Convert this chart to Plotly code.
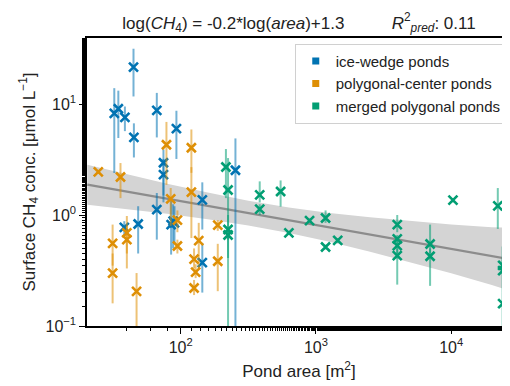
import numpy as np
import plotly.graph_objects as go

# ---------------- data ----------------
iw_area = [44.8, 32.3, 34.6, 38.7, 45.1, 66.6, 93, 74.6, 74.6, 66.6, 38.3, 48.5, 85, 88, 90, 144.5, 144.5, 254]
iw_conc = [21.5, 8.25, 9.07, 7.59, 5.0, 8.77, 6.0, 2.96, 2.31, 1.12, 0.775, 0.83, 0.82, 0.88, 0.85, 1.37, 0.372, 2.53]
iw_lo   = [11.7, 2.39, 4.94, 5.7, 3.3, 5.0, 3.2, 1.3, 1.5, 0.6, 0.65, 0.45, 0.44, 0.5, 0.55, 0.74, 0.2, 0.09]
iw_hi   = [31.5, 13.9, 13.2, 9.5, 6.7, 12.6, 8.7, 3.9, 3.2, 1.58, 0.88, 1.2, 1.34, 1.25, 1.2, 1.97, 0.56, 4.9]

pc_area = [24.6, 35.9, 78.5, 120, 84.4, 120, 94.6, 94.6, 136, 125.6, 129, 125.6, 188, 188, 31.4, 31.4, 40, 40, 47.2]
pc_conc = [2.45, 2.2, 4.3, 4.04, 1.40, 1.61, 0.90, 0.526, 0.587, 0.40, 0.306, 0.22, 0.81, 0.383, 0.556, 0.30, 0.69, 0.60, 0.205]
pc_lo   = [2.35, 1.42, 1.87, 2.4, 0.8, 0.62, 0.7, 0.45, 0.33, 0.33, 0.27, 0.19, 0.72, 0.206, 0.35, 0.16, 0.45, 0.33, 0.095]
pc_hi   = [2.55, 2.94, 6.9, 5.9, 1.75, 2.7, 1.1, 0.6, 0.85, 0.5, 0.36, 0.26, 0.9, 0.55, 0.82, 0.45, 0.98, 0.8, 0.3]

mp_area = [216, 224, 224, 224, 384, 384, 548, 631, 897, 1178, 1178, 1449, 3990, 3990, 3990, 3990, 6980, 6980, 10300, 22100, 24000, 24000, 24000]
mp_conc = [2.71, 1.68, 0.74, 0.66, 1.52, 1.13, 1.63, 0.69, 0.89, 0.94, 0.515, 0.59, 0.818, 0.61, 0.53, 0.43, 0.548, 0.425, 1.36, 1.21, 0.352, 0.315, 0.159]
mp_lo   = [1.42, 0.41, 0.095, 0.6, 1.3, 1.0, 1.19, 0.66, 0.85, 0.85, 0.49, 0.56, 0.7, 0.55, 0.45, 0.236, 0.45, 0.23, 1.3, 0.75, 0.3, 0.2, 0.09]
mp_hi   = [3.93, 3.26, 1.0, 0.72, 2.01, 1.25, 2.05, 0.72, 0.93, 1.1, 0.54, 0.62, 1.0, 0.66, 0.6, 0.5, 0.82, 0.5, 1.42, 1.75, 0.52, 0.4, 0.2]

# regression (log10 space) and its confidence band
reg_slope = -0.215
reg_intercept = 0.555
band_logarea = [1.31, 1.6, 1.9, 2.2, 2.5, 2.8, 3.1, 3.4, 3.7, 4.0, 4.3, 4.44]
band_halfwidth = [0.18, 0.155, 0.135, 0.12, 0.112, 0.115, 0.13, 0.155, 0.185, 0.22, 0.26, 0.285]

series_names = ["ice-wedge ponds", "polygonal-center ponds", "merged polygonal ponds"]
colors = ["#0173B2", "#DE8F05", "#029E73"]
bar_colors = ["rgba(1,115,178,0.55)", "rgba(222,143,5,0.55)", "rgba(2,158,115,0.55)"]

x_tickvals = [100, 1000, 10000]
x_ticktext = ["10<sup>2</sup>", "10<sup>3</sup>", "10<sup>4</sup>"]
y_tickvals = [0.1, 1, 10]
y_ticktext = ["10<sup>\u22121</sup>", "10<sup>0</sup>", "10<sup>1</sup>"]

FONT = "Liberation Sans, Arial, sans-serif"

fig = go.Figure()

# confidence band
bx = np.power(10.0, band_logarea)
bline = reg_intercept + reg_slope * np.array(band_logarea)
bup = np.power(10.0, bline + np.array(band_halfwidth))
blo = np.power(10.0, bline - np.array(band_halfwidth))
fig.add_trace(go.Scatter(x=list(bx) + list(bx[::-1]), y=list(bup) + list(blo[::-1]),
                         fill="toself", fillcolor="rgb(212,212,212)", line=dict(width=0),
                         mode="lines", showlegend=False, hoverinfo="skip"))
# regression line
lx = np.array([band_logarea[0], band_logarea[-1]])
fig.add_trace(go.Scatter(x=np.power(10.0, lx), y=np.power(10.0, reg_intercept + reg_slope * lx),
                         mode="lines", line=dict(color="#8c8c8c", width=2.2),
                         showlegend=False, hoverinfo="skip"))

groups = [(iw_area, iw_conc, iw_lo, iw_hi), (pc_area, pc_conc, pc_lo, pc_hi), (mp_area, mp_conc, mp_lo, mp_hi)]
for (a, c, lo, hi), name, col, bcol in zip(groups, series_names, colors, bar_colors):
    c_arr = np.array(c); lo_arr = np.array(lo); hi_arr = np.array(hi)
    fig.add_trace(go.Scatter(
        x=a, y=c, mode="markers", showlegend=False, name=name,
        marker=dict(symbol="x-thin", size=9, color=col, line=dict(color=col, width=2.6)),
        error_y=dict(type="data", symmetric=False, array=hi_arr - c_arr, arrayminus=c_arr - lo_arr,
                     color=bcol, thickness=2, width=0),
    ))

for name, col in zip(series_names, colors):
    fig.add_trace(go.Scatter(x=[None], y=[None], mode="markers", name=name,
                             marker=dict(symbol="square", size=7, color=col)))

axis_common = dict(type="log", showline=True, linecolor="black", linewidth=1.5, mirror=True,
                   ticks="outside", ticklen=6, tickwidth=1.3, tickcolor="black", showgrid=False,
                   zeroline=False, tickfont=dict(size=16, color="#222"),
                   minor=dict(ticks="outside", ticklen=3.5, tickwidth=1, tickcolor="black", showgrid=False))

fig.update_xaxes(**axis_common, range=[np.log10(20.3), 4.442], tickvals=x_tickvals, ticktext=x_ticktext,
                 title=dict(text="Pond area [m<sup>2</sup>]", font=dict(size=17, color="#222"), standoff=10))
fig.update_yaxes(**axis_common, range=[-1, 1.595], tickvals=y_tickvals, ticktext=y_ticktext,
                 title=dict(text="Surface CH<sub>4</sub> conc. [\u03bcmol L<sup>\u22121</sup>]",
                            font=dict(size=17, color="#222"), standoff=6))

fig.update_layout(
    width=510, height=386,
    margin=dict(l=79, r=5, t=30, b=68),
    paper_bgcolor="white", plot_bgcolor="white",
    font=dict(family=FONT, color="#222"),
    title=dict(text="log(<i>CH</i><sub>4</sub>) = -0.2*log(<i>area</i>)+1.3" + "&nbsp;" * 10 +
                    "<i>R</i><sup>2</sup><sub><i>pred</i></sub>: 0.11",
               x=0.5, xref="paper", xanchor="center", y=0.962, yref="container", yanchor="middle",
               font=dict(size=17, color="#222")),
    legend=dict(x=0.49, y=0.98, xanchor="left", yanchor="top", bgcolor="white",
                bordercolor="#d0d0d0", borderwidth=1, font=dict(size=15, color="#222"),
                itemwidth=30, tracegroupgap=0),
)

fig.write_html("out.html")
